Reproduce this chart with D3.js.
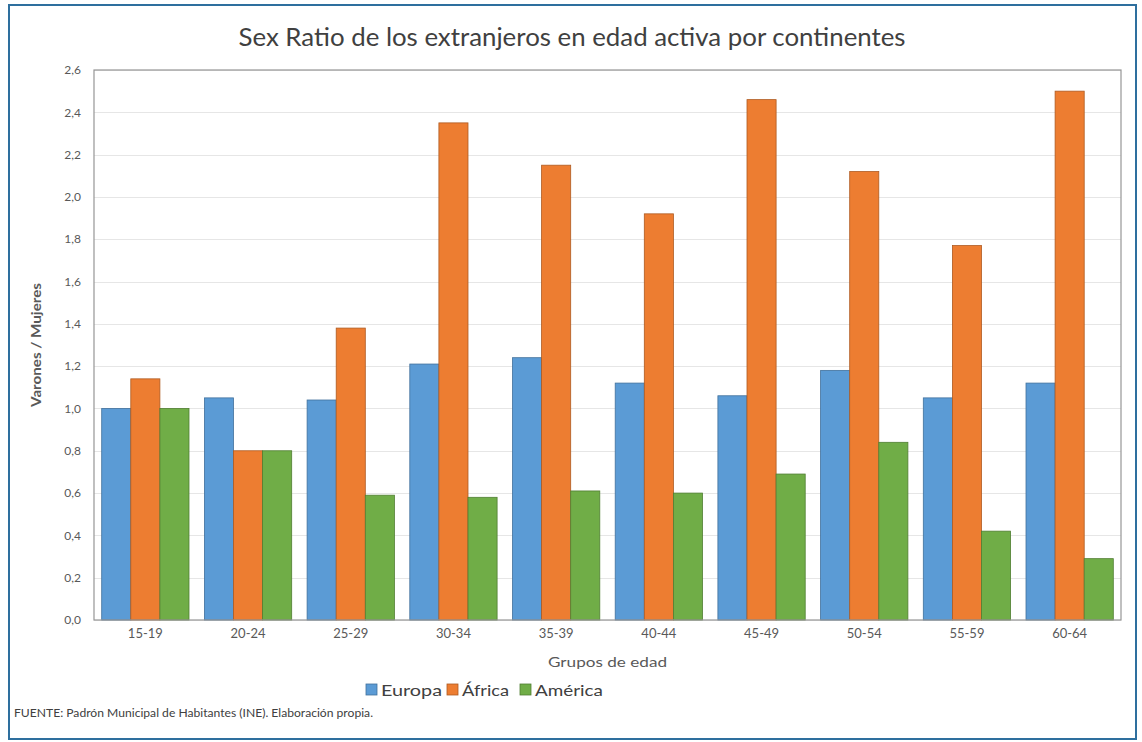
<!DOCTYPE html>
<meta charset="utf-8">
<head>
  <title>Sex Ratio</title>
  <script src="https://d3js.org/d3.v7.min.js"></script>
  <style>
    body { margin: 0; background: #fff; font-family: Lato, "Open Sans", sans-serif; }
  </style>
</head>
<body>
<div id="chart"></div>
<script>
  // data
  var groups = ["15-19","20-24","25-29","30-34","35-39","40-44","45-49","50-54","55-59","60-64"];
  var series = ["Europa","África","América"];
  var europa  = [1.00, 1.05, 1.04, 1.21, 1.24, 1.12, 1.06, 1.18, 1.05, 1.12];
  var africa  = [1.14, 0.80, 1.38, 2.35, 2.15, 1.92, 2.46, 2.12, 1.77, 2.50];
  var america = [1.00, 0.80, 0.59, 0.58, 0.61, 0.60, 0.69, 0.84, 0.42, 0.29];
  var yTicks  = [0,0.2,0.4,0.6,0.8,1.0,1.2,1.4,1.6,1.8,2.0,2.2,2.4,2.6];
  var colors  = ["#5b9bd5","#ed7d31","#70ad47"];
  var strokes = ["#41719c","#ae5a21","#507e32"];

  var values = [europa, africa, america];
  var rows = groups.map(function(g, i) {
    return { group: g, vals: series.map(function(s, j) { return { key: s, idx: j, v: values[j][i] }; }) };
  });

  var W = 1142, H = 742;
  var margin = {top: 70, right: 21, bottom: 122, left: 94};
  var innerW = W - margin.left - margin.right,
      innerH = H - margin.top - margin.bottom;

  var svg = d3.select("#chart").append("svg")
      .attr("width", W).attr("height", H);

  // outer frame
  svg.append("rect")
      .attr("x", 9).attr("y", 5).attr("width", 1127).attr("height", 734)
      .attr("fill", "#fff").attr("stroke", "#2e6f9e").attr("stroke-width", 2);

  svg.append("text")
      .attr("x", 572).attr("y", 46)
      .attr("text-anchor", "middle")
      .attr("textLength", 667).attr("lengthAdjust", "spacingAndGlyphs")
      .style("font-size", "25px").style("fill", "#404040")
      .text("Sex Ratio de los extranjeros en edad activa por continentes");

  var g = svg.append("g").attr("transform", "translate(" + margin.left + "," + margin.top + ")");

  var x0 = d3.scaleBand().domain(groups).range([0, innerW]).paddingInner(0.15).paddingOuter(0.075);
  var x1 = d3.scaleBand().domain(series).range([0, x0.bandwidth()]);
  var y = d3.scaleLinear().domain([0, 2.6]).range([innerH, 0]);

  // gridlines
  g.append("g").selectAll("line").data(yTicks).enter().append("line")
      .attr("x1", 0).attr("x2", innerW)
      .attr("y1", function(d) { return Math.round(y(d)) + 0.5; })
      .attr("y2", function(d) { return Math.round(y(d)) + 0.5; })
      .attr("stroke", "#e6e6e6");

  // y labels
  var fmt = function(d) { return d3.format(".1f")(d).replace(".", ","); };
  g.append("g").selectAll("text").data(yTicks).enter().append("text")
      .attr("x", -13).attr("y", function(d) { return y(d); })
      .attr("dy", "0.35em").attr("text-anchor", "end")
      .style("font-size", "12px").style("fill", "#595959")
      .text(fmt);

  // bars
  g.append("g").selectAll("g").data(rows).enter().append("g")
      .attr("transform", function(d) { return "translate(" + x0(d.group) + ",0)"; })
    .selectAll("rect").data(function(d) { return d.vals; }).enter().append("rect")
      .attr("x", function(d) { return x1(d.key); })
      .attr("width", x1.bandwidth())
      .attr("y", function(d) { return y(d.v); })
      .attr("height", function(d) { return innerH - y(d.v); })
      .attr("fill", function(d) { return colors[d.idx]; })
      .attr("stroke", function(d) { return strokes[d.idx]; })
      .attr("stroke-width", 0.8);

  // plot border
  g.append("rect").attr("x", 0).attr("y", 0).attr("width", innerW).attr("height", innerH)
      .attr("fill", "none").attr("stroke", "#969696").attr("stroke-width", 1.2);

  // x labels
  g.append("g").selectAll("text").data(groups).enter().append("text")
      .attr("x", function(d) { return x0(d) + x0.bandwidth() / 2; })
      .attr("y", innerH + 18)
      .attr("text-anchor", "middle")
      .style("font-size", "13px").style("fill", "#595959")
      .text(function(d) { return d; });

  g.append("text")
      .attr("x", innerW / 2).attr("y", innerH + 47)
      .attr("text-anchor", "middle")
      .attr("textLength", 119).attr("lengthAdjust", "spacingAndGlyphs")
      .style("font-size", "14px").style("fill", "#595959")
      .text("Grupos de edad");

  svg.append("text")
      .attr("transform", "translate(41," + (margin.top + innerH / 2) + ") rotate(-90)")
      .attr("text-anchor", "middle")
      .attr("textLength", 124).attr("lengthAdjust", "spacingAndGlyphs")
      .style("font-size", "12.5px").style("font-weight", "bold").style("fill", "#595959")
      .text("Varones / Mujeres");

  // legend
  var legX = [366, 447, 520];
  var legW = [61, 47, 68];
  var leg = svg.append("g").selectAll("g").data(series).enter().append("g")
      .attr("transform", function(d, i) { return "translate(" + legX[i] + ",684)"; });
  leg.append("rect").attr("width", 11).attr("height", 11)
      .attr("fill", function(d, i) { return colors[i]; })
      .attr("stroke", function(d, i) { return strokes[i]; }).attr("stroke-width", 0.8);
  leg.append("text").attr("x", 15).attr("y", 11.5)
      .attr("textLength", function(d, i) { return legW[i]; }).attr("lengthAdjust", "spacingAndGlyphs")
      .style("font-size", "15px").style("fill", "#404040")
      .text(function(d) { return d; });

  svg.append("text")
      .attr("x", 14).attr("y", 717)
      .attr("textLength", 359).attr("lengthAdjust", "spacingAndGlyphs")
      .style("font-size", "11px").style("fill", "#404040")
      .text("FUENTE: Padrón Municipal  de Habitantes (INE). Elaboración propia.");
</script>
</body>
